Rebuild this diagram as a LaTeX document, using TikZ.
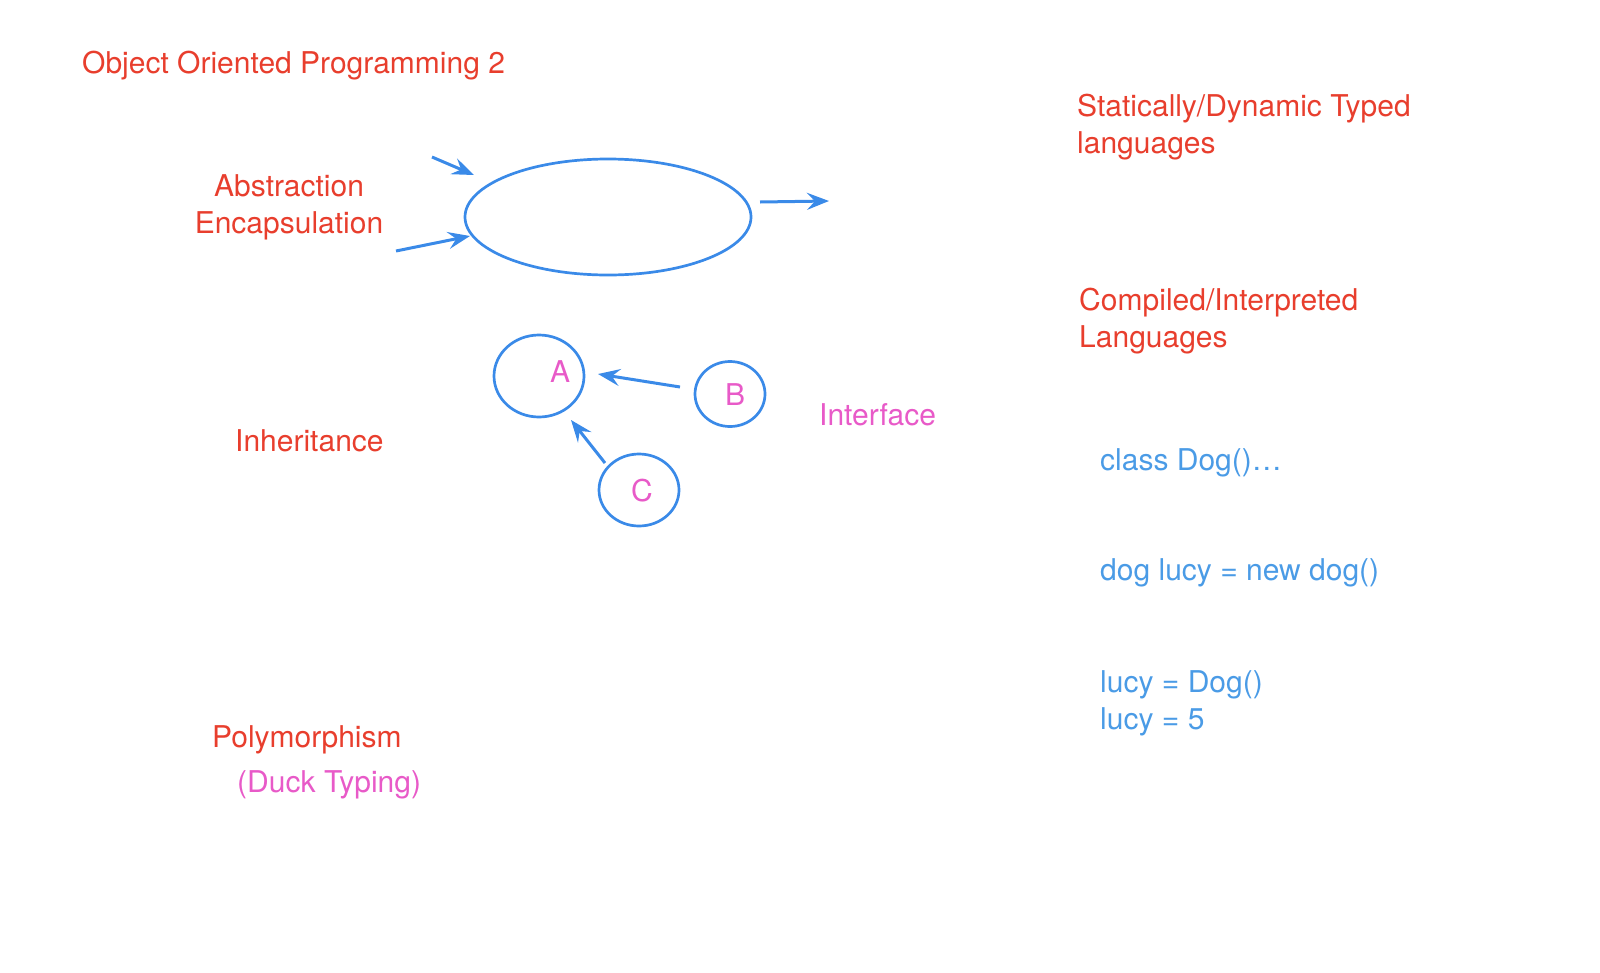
\documentclass[tikz,border=0pt]{standalone}
\usepackage{fontspec}
\setmainfont{TeX Gyre Heros}
\usetikzlibrary{shapes.geometric,arrows.meta}
\definecolor{ored}{RGB}{232,62,45}
\definecolor{oblue}{RGB}{58,138,232}
\definecolor{tblue}{RGB}{74,155,230}
\definecolor{opink}{RGB}{232,90,200}
\begin{document}
\begin{tikzpicture}[x=1pt,y=-1pt,
  lbl/.style={font=\fontsize{30}{37}\selectfont, inner sep=0pt, anchor=west, align=left},
  redt/.style={lbl, text=ored},
  bluet/.style={lbl, text=tblue},
  pinkt/.style={lbl, text=opink},
  oval/.style={ellipse, draw=oblue, line width=2.7pt, inner sep=0pt},
  arr/.style={draw=oblue, line width=3pt, -{Stealth[length=22pt,width=17pt,inset=8pt]}}]
\useasboundingbox (0,0) rectangle (1600,972);
% texts
\node[redt] (title) at (82,66) {Object Oriented Programming 2};
\node[redt] (static) at (1077,127) {Statically/Dynamic Typed\\languages};
\node[redt, align=center, anchor=center] (abs) at (289,207) {Abstraction\\Encapsulation};
\node[redt] (comp) at (1079,321) {Compiled/Interpreted\\Languages};
\node[redt] (inh) at (235,441) {Inheritance};
\node[pinkt] (iface) at (819,415) {Interface};
\node[redt] (poly) at (212,740) {Polymorphism};
\node[pinkt] (duck) at (237,785) {(Duck Typing)};
\node[bluet] (cls) at (1100,463) {class Dog()\ldots};
\node[bluet] (newd) at (1100,573) {dog lucy = new dog()};
\node[bluet] (lucy) at (1100,703) {lucy = Dog()\\lucy = 5};
% big ellipse
\node[oval, minimum width=286pt, minimum height=116pt] (obj) at (608,217) {};
\coordinate (in1) at (432,157);
\coordinate (in1e) at (474,175);
\coordinate (in2) at (396,251);
\coordinate (in2e) at (470,236);
\coordinate (out1) at (760,202);
\coordinate (out1e) at (829,201);
\draw[arr] (in1) -- (in1e);
\draw[arr] (in2) -- (in2e);
\draw[arr] (out1) -- (out1e);
% A B C
\node[oval, minimum width=90pt, minimum height=82pt] (A) at (539,376) {};
\node[oval, minimum width=70pt, minimum height=65pt] (B) at (730,394) {};
\node[oval, minimum width=80pt, minimum height=72pt] (C) at (639,490) {};
\node[font=\fontsize{30}{32}\selectfont, text=opink, inner sep=0pt] (Alab) at (560,372) {A};
\node[font=\fontsize{30}{32}\selectfont, text=opink, inner sep=0pt] (Blab) at (735,395) {B};
\node[font=\fontsize{30}{32}\selectfont, text=opink, inner sep=0pt] (Clab) at (642,491) {C};
\coordinate (bs) at (680,387);
\coordinate (be) at (598,374);
\coordinate (cs) at (605,463);
\coordinate (ce) at (571,420);
\draw[arr] (bs) -- (be);
\draw[arr] (cs) -- (ce);
\end{tikzpicture}
\end{document}
